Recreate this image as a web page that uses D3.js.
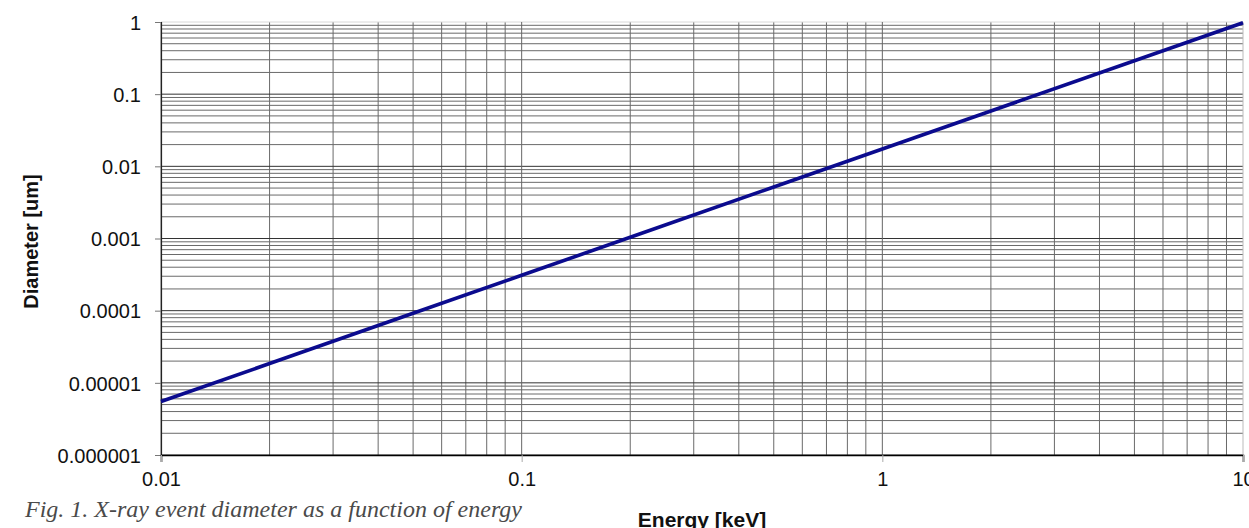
<!DOCTYPE html>
<html>
<head>
<meta charset="utf-8">
<script src="https://cdn.jsdelivr.net/npm/d3@7"></script>
<style>
  html, body { margin: 0; padding: 0; background: #fff; }
  svg { display: block; }
</style>
</head>
<body>
<svg id="chart" width="1249" height="528"></svg>
<script>
// ---- data ----
const energies = [0.01, 0.02, 0.05, 0.1, 0.2, 0.5, 1, 2, 5, 10];
const diameters = [5.5e-6, 1.85e-5, 9.2e-5, 3.09e-4, 1.04e-3, 5.17e-3, 0.0174, 0.0585, 0.291, 0.978];
const xTickValues = [0.01, 0.1, 1, 10];
const xTickLabels = ["0.01", "0.1", "1", "10"];
const yTickValues = [1e-6, 1e-5, 1e-4, 1e-3, 1e-2, 1e-1, 1];
const yTickLabels = ["0.000001", "0.00001", "0.0001", "0.001", "0.01", "0.1", "1"];
const xTitle = "Energy [keV]";
const yTitle = "Diameter [um]";
const caption = "Fig. 1. X-ray event diameter as a function of energy";

// ---- layout ----
const L = 161, R = 1243, T = 22, B = 455;
const svg = d3.select("#chart");
const x = d3.scaleLog().domain([0.01, 10]).range([L, R]);
const y = d3.scaleLog().domain([1e-6, 1]).range([B, T]);

// minor positions
const minorX = [];
for (let d = 0.01; d < 10 - 1e-9; d *= 10) for (let k = 2; k <= 9; k++) minorX.push(d * k);
const minorY = [];
for (let d = 1e-6; d < 1 - 1e-12; d *= 10) for (let k = 2; k <= 9; k++) minorY.push(d * k);

const grid = svg.append("g");
grid.selectAll("line.hmin").data(minorY).join("line")
  .attr("x1", L).attr("x2", R).attr("y1", d => y(d)).attr("y2", d => y(d))
  .attr("stroke", "#6a6a6a").attr("stroke-width", 1);
grid.selectAll("line.vmin").data(minorX).join("line")
  .attr("y1", T).attr("y2", B).attr("x1", d => x(d)).attr("x2", d => x(d))
  .attr("stroke", "#6a6a6a").attr("stroke-width", 1);
grid.selectAll("line.hmaj").data(yTickValues).join("line")
  .attr("x1", L).attr("x2", R).attr("y1", d => y(d)).attr("y2", d => y(d))
  .attr("stroke", d => d === 1 ? "#d8d8d8" : "#333").attr("stroke-width", 1);
grid.selectAll("line.vmaj").data(xTickValues).join("line")
  .attr("y1", T).attr("y2", B).attr("x1", d => x(d)).attr("x2", d => x(d))
  .attr("stroke", d => d === 10 ? "#bbb" : "#666").attr("stroke-width", 1);

// axes
const yAxis = d3.axisLeft(y).tickValues(yTickValues)
  .tickFormat((d, i) => yTickLabels[i]).tickSize(6).tickPadding(14);
const gy = svg.append("g").attr("transform", `translate(${L},0)`).call(yAxis);
gy.select(".domain").attr("stroke", "#222").attr("stroke-width", 1.2);
gy.selectAll(".tick line").attr("stroke", "#777");
gy.selectAll(".tick text").attr("font-family", "'Liberation Sans', Arial, sans-serif")
  .attr("font-size", 20).attr("fill", "#111").attr("dy", "0.36em");

const xAxis = d3.axisBottom(x).tickValues(xTickValues)
  .tickFormat((d, i) => xTickLabels[i]).tickSize(7).tickPadding(10);
const gx = svg.append("g").attr("transform", `translate(0,${B})`).call(xAxis);
gx.select(".domain").attr("stroke", "#000").attr("stroke-width", 1.6);
gx.selectAll(".tick line").attr("stroke", "#aaa");
gx.selectAll(".tick text").attr("font-family", "'Liberation Sans', Arial, sans-serif")
  .attr("font-size", 20).attr("fill", "#111");

// line
const line = d3.line().x((d, i) => x(energies[i])).y(d => y(d));
svg.append("path").datum(diameters).attr("d", line)
  .attr("fill", "none").attr("stroke", "#0b0b8e").attr("stroke-width", 3.6)
  .attr("stroke-linecap", "butt");

// titles
svg.append("text").attr("x", (L + R) / 2).attr("y", 527)
  .attr("text-anchor", "middle").attr("font-family", "'Liberation Sans', Arial, sans-serif")
  .attr("font-weight", "bold").attr("font-size", 21).attr("fill", "#111").text(xTitle);
svg.append("text").attr("transform", `translate(38,${(T + B) / 2 + 3}) rotate(-90)`)
  .attr("text-anchor", "middle").attr("font-family", "'Liberation Sans', Arial, sans-serif")
  .attr("font-weight", "bold").attr("font-size", 20).attr("fill", "#111").text(yTitle);

// caption
svg.append("text").attr("x", 25).attr("y", 517)
  .attr("font-family", "'Liberation Serif', 'Times New Roman', serif")
  .attr("font-style", "italic").attr("font-size", 24).attr("fill", "#4a4a4a").text(caption);
</script>
</body>
</html>
